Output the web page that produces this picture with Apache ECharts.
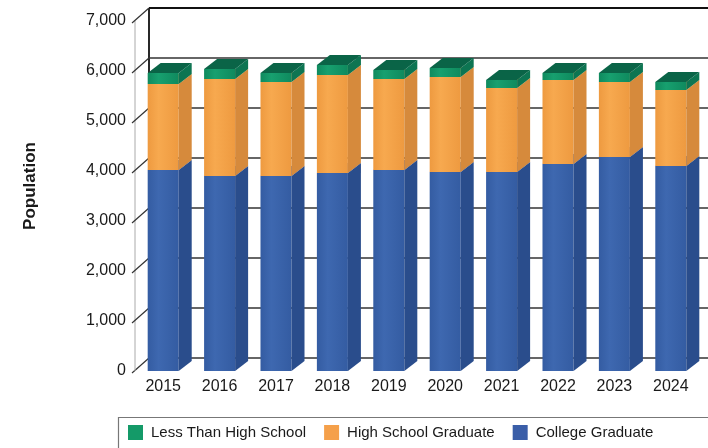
<!DOCTYPE html>
<html><head><meta charset="utf-8">
<script src="https://cdn.jsdelivr.net/npm/echarts@6/dist/echarts.min.js"></script>
<style>html,body{margin:0;padding:0;background:#fff}#c{width:708px;height:448px}</style>
</head><body><div id="c"></div>
<script>
const categories = ['2015','2016','2017','2018','2019','2020','2021','2022','2023','2024'];
const collegeGraduate = [4020,3900,3900,3960,4020,3980,3980,4140,4280,4100];
const highSchoolGraduate = [1720,1940,1880,1960,1820,1900,1680,1680,1500,1520];
const lessThanHighSchool = [220,200,180,200,180,180,160,140,180,160];
const yTicks = [0,1000,2000,3000,4000,5000,6000,7000];
const seriesNames = ['Less Than High School','High School Graduate','College Graduate'];

const FONT = "'Liberation Sans', Arial, sans-serif";
const BDX = 13, BDY = -10;   // bar depth
const WDX = 14, WDY = -13;   // wall depth
const BARW = 0.55;

const palette = {
  green: {front:'#17a06f', frontDark:'#0f8a5e', side:'#0d7552', top:'#0a6447', legend:'#149a68'},
  orange:{front:'#f7a94f', frontDark:'#ee9a40', side:'#d68a3c', top:'#f2b872', legend:'#f5a04a'},
  blue:  {front:'#3e68b0', frontDark:'#345ca2', side:'#2a4d8c', top:'#5078bb', legend:'#3a5ea8'}
};

function grad(a, b){
  return new echarts.graphic.LinearGradient(0,0,1,0,[{offset:0,color:b},{offset:0.35,color:a},{offset:1,color:b}]);
}

function barRender(pal){
  return function(params, api){
    const i = api.value(0), base = api.value(1), top = api.value(2);
    const p0 = api.coord([i, base]), p1 = api.coord([i, top]);
    const w = api.size([1,0])[0]*BARW;
    const x0 = p0[0]-w/2, x1 = x0+w, yb = p0[1], yt = p1[1];
    return {type:'group', children:[
      {type:'rect', shape:{x:x0, y:yt, width:w, height:yb-yt}, style:{fill:grad(pal.front, pal.frontDark)}},
      {type:'polygon', shape:{points:[[x1,yb],[x1,yt],[x1+BDX,yt+BDY],[x1+BDX,yb+BDY]]}, style:{fill:pal.side}},
      {type:'polygon', shape:{points:[[x0,yt],[x1,yt],[x1+BDX,yt+BDY],[x0+BDX,yt+BDY]]}, style:{fill:pal.top}}
    ]};
  };
}

function stackData(lower, vals){
  return vals.map((v,i)=>[i, lower[i], lower[i]+v]);
}
const zeros = categories.map(()=>0);
const blueTop = collegeGraduate.map(v=>v);
const orangeTop = collegeGraduate.map((v,i)=>v+highSchoolGraduate[i]);

function wallRender(params, api){
  const cs = params.coordSys;
  const v = api.value(0);
  const y = api.coord([0, v])[1];
  const L = cs.x, R = cs.x + cs.width;
  const isTop = v === yTicks[yTicks.length-1];
  const ch = [
    {type:'line', shape:{x1:L+WDX, y1:y+WDY, x2:R+WDX+10, y2:y+WDY}, style:{stroke: isTop?'#111':'#333', lineWidth: isTop?2:1.3}},
    {type:'line', shape:{x1:L-3, y1:y+2, x2:L+WDX, y2:y+WDY}, style:{stroke:'#333', lineWidth:1.2}}
  ];
  if (params.dataIndex === 0){
    const yTop = api.coord([0, yTicks[yTicks.length-1]])[1];
    ch.push({type:'line', shape:{x1:L+WDX, y1:yTop+WDY, x2:L+WDX, y2:y+WDY}, style:{stroke:'#111', lineWidth:1.8}});
    ch.push({type:'line', shape:{x1:L, y1:yTop, x2:L, y2:y}, style:{stroke:'#aaa', lineWidth:1}});
  }
  return {type:'group', children:ch};
}

const chart = echarts.init(document.getElementById('c'));
chart.setOption({
  animation:false,
  backgroundColor:'#fff',
  grid:{left:135, top:21, width:564, height:350},
  xAxis:{type:'category', data:categories, axisLine:{show:false}, axisTick:{show:false},
    axisLabel:{margin:8, fontSize:16, color:'#1a1a1a', fontFamily:FONT}},
  yAxis:{type:'value', min:0, max:7000, interval:1000, axisLine:{show:false}, axisTick:{show:false},
    splitLine:{show:false},
    axisLabel:{margin:9, fontSize:16, color:'#1a1a1a', fontFamily:FONT, formatter:v=>v.toLocaleString('en-US')}},
  legend:{data:seriesNames, left:128, top:425, padding:0, icon:'rect', itemWidth:15, itemHeight:15, itemGap:18,
    textStyle:{fontSize:15, color:'#1a1a1a', fontFamily:FONT, padding:[0,0,0,3]}},
  graphic:[
    {type:'rect', left:116, top:415, shape:{width:620, height:45}, style:{fill:'none', stroke:'#777', lineWidth:1.2}, z:-1},
    {type:'text', x:30, y:186, rotation:Math.PI/2, style:{text:'Population', font:'bold 17px '+FONT, fill:'#1a1a1a', align:'center', verticalAlign:'middle'}}
  ],
  series:[
    {type:'custom', name:'wall', data:yTicks.map(v=>[v]), renderItem:wallRender, silent:true, z:1},
    {type:'custom', name:seriesNames[2], data:stackData(zeros, collegeGraduate), renderItem:barRender(palette.blue), itemStyle:{color:palette.blue.legend}, z:2},
    {type:'custom', name:seriesNames[1], data:stackData(blueTop, highSchoolGraduate), renderItem:barRender(palette.orange), itemStyle:{color:palette.orange.legend}, z:3},
    {type:'custom', name:seriesNames[0], data:stackData(orangeTop, lessThanHighSchool), renderItem:barRender(palette.green), itemStyle:{color:palette.green.legend}, z:4}
  ]
});
</script></body></html>
